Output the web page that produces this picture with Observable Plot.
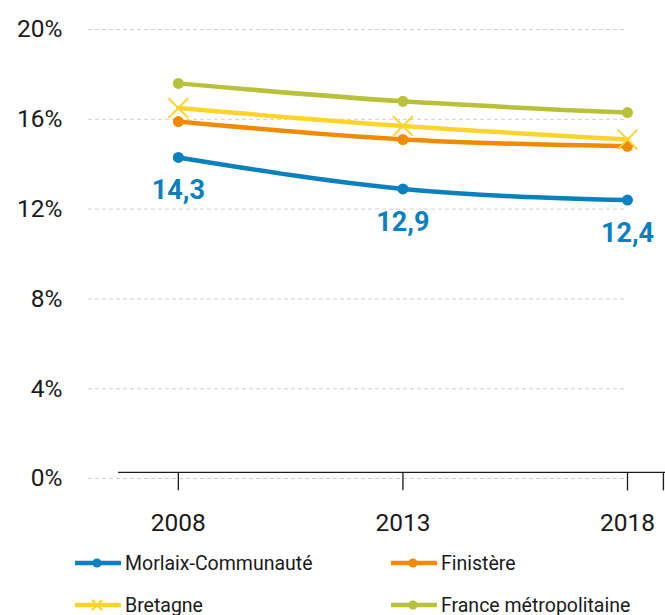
<!DOCTYPE html>
<html>
<head>
<meta charset="utf-8">
<script src="https://cdn.jsdelivr.net/npm/d3@7"></script>
<script src="https://cdn.jsdelivr.net/npm/@observablehq/plot@0.6"></script>
<style>
  html, body { margin: 0; padding: 0; background: #fff; }
  #wrap { position: relative; width: 665px; height: 615px; overflow: hidden; font-family: Roboto, "Noto Sans", sans-serif; }
  .leg { position: absolute; display: flex; align-items: center; font-size: 19.5px; color: #1a1a1a; white-space: nowrap; }
  .leg svg { margin-right: 4px; }
</style>
</head>
<body>
<div id="wrap"></div>
<script>
const years = [2008, 2013, 2018];
const seriesNames = ["Morlaix-Communauté", "Finistère", "Bretagne", "France métropolitaine"];
const morlaix = [14.3, 12.9, 12.4];
const finistere = [15.9, 15.1, 14.8];
const bretagne = [16.5, 15.7, 15.1];
const france = [17.6, 16.8, 16.3];
const yTicks = [0, 4, 8, 12, 16, 20];
const colors = ["#0a80bf", "#f28a00", "#fdd42e", "#b9c13b"];

const allValues = [morlaix, finistere, bretagne, france];
const rows = [];
seriesNames.forEach((s, i) => years.forEach((y, j) => rows.push({series: s, year: y, value: allValues[i][j]})));
const drawOrder = ["France métropolitaine", "Bretagne", "Finistère", "Morlaix-Communauté"];
rows.sort((a, b) => drawOrder.indexOf(a.series) - drawOrder.indexOf(b.series));
const dotRows = rows.filter(d => d.series !== "Bretagne");
const crossRows = rows.filter(d => d.series === "Bretagne");
const labelRows = rows.filter(d => d.series === "Morlaix-Communauté");

const fmt = v => d3.format(".1f")(v).replace(".", ",");

const chart = Plot.plot({
  width: 665,
  height: 540,
  marginLeft: 88,
  marginRight: 38,
  marginTop: 29,
  marginBottom: 62,
  style: {fontFamily: "Roboto, sans-serif", background: "#fff", overflow: "visible"},
  x: {domain: [2006, 2018], label: null},
  y: {domain: [0, 20], label: null},
  color: {domain: seriesNames, range: colors},
  marks: [
    Plot.ruleY(yTicks, {stroke: "#cfcfcf", strokeWidth: 1, strokeDasharray: "4,3"}),
    Plot.axisY(yTicks, {tickSize: 0, tickPadding: 26, fontSize: 24.5, fill: "#1a1a1a", label: null, tickFormat: d => d + "%"}),
    Plot.ruleY([0.27], {x1: 2006.67, x2: 2018.85, stroke: "#1a1a1a", strokeWidth: 1.3}),
    Plot.ruleX(years, {y1: 0.27, y2: -0.55, stroke: "#1a1a1a", strokeWidth: 1.3}),
    Plot.ruleX([2018.8], {y1: 0.27, y2: -0.55, stroke: "#1a1a1a", strokeWidth: 1.3}),
    Plot.axisX(years, {tickSize: 0, tickPadding: 35, fontSize: 24.5, fill: "#1a1a1a", label: null, tickFormat: d => String(d)}),
    Plot.line(rows, {x: "year", y: "value", z: "series", stroke: "series", strokeWidth: 4.5, curve: "monotone-x"}),
    Plot.dot(dotRows, {x: "year", y: "value", fill: "series", r: 5.5}),
    Plot.dot(crossRows, {x: "year", y: "value", stroke: "series", symbol: "times", r: 9, strokeWidth: 2}),
    Plot.text(labelRows, {x: "year", y: "value", text: d => fmt(d.value), dy: 33, fill: "#0a80bf", fontSize: 27, fontWeight: "bold"})
  ]
});
const wrap = document.getElementById("wrap");
wrap.appendChild(chart);

const legendPos = [[75, 563], [391, 563], [75, 605], [391, 605]];
seriesNames.forEach((s, i) => {
  const el = document.createElement("div");
  el.className = "leg";
  el.style.left = legendPos[i][0] + "px";
  el.style.top = (legendPos[i][1] - 12) + "px";
  el.style.height = "24px";
  const sym = s === "Bretagne"
    ? `<path d="M17,7 L27,17 M27,7 L17,17" stroke="${colors[i]}" stroke-width="2"/>`
    : `<circle cx="22" cy="12" r="4.5" fill="${colors[i]}"/>`;
  el.innerHTML = `<svg width="46" height="24"><line x1="0" y1="12" x2="45" y2="12" stroke="${colors[i]}" stroke-width="4.5" stroke-linecap="round"/>${sym}</svg><span>${s}</span>`;
  wrap.appendChild(el);
});
</script>
</body>
</html>
